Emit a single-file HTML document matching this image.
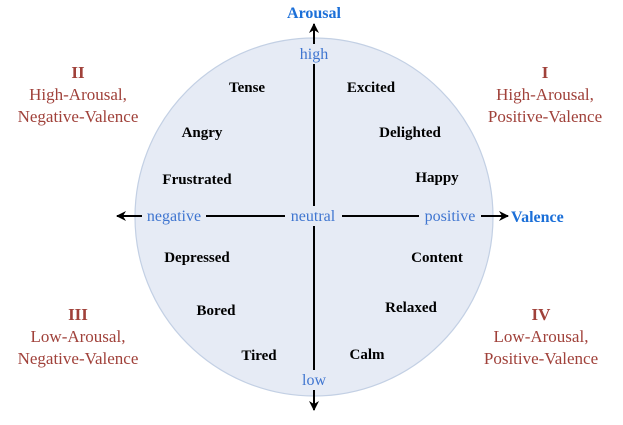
<!DOCTYPE html>
<html><head><style>body{margin:0;background:#fff}svg{display:block}text{font-family:"Liberation Serif","Times New Roman",serif}</style></head>
<body>
<svg width="623" height="425" viewBox="0 0 623 425" xmlns="http://www.w3.org/2000/svg">
<defs><marker id="a" markerWidth="10" markerHeight="10" refX="9" refY="5" orient="auto" markerUnits="userSpaceOnUse"><path d="M0,0 L10,5 L0,10 L3,5 z" fill="#000"/></marker></defs>
<circle cx="314" cy="217" r="179" fill="#e6ebf5" stroke="#c3d0e4" stroke-width="1.2"/>
<line x1="314" y1="396" x2="314" y2="24" stroke="#000" stroke-width="2" marker-end="url(#a)"/>
<line x1="314" y1="37" x2="314" y2="410" stroke="#000" stroke-width="2" marker-end="url(#a)"/>
<line x1="314" y1="216" x2="117" y2="216" stroke="#000" stroke-width="2" marker-end="url(#a)"/>
<line x1="314" y1="216" x2="508" y2="216" stroke="#000" stroke-width="2" marker-end="url(#a)"/>
<g fill="#e6ebf5">
<rect x="296" y="44" width="36" height="20"/><rect x="142" y="206" width="64" height="20"/><rect x="285" y="206" width="57" height="20"/><rect x="419" y="206" width="62" height="20"/><rect x="297" y="370" width="33" height="20"/>
</g>
<g fill="#3f75d0" font-size="16" text-anchor="middle">
<text x="314" y="59">high</text><text x="174" y="221">negative</text><text x="313" y="221">neutral</text><text x="450" y="221">positive</text><text x="314" y="385">low</text>
</g>
<g fill="#1b6fd8" font-size="16" font-weight="bold">
<text x="314" y="18" text-anchor="middle">Arousal</text><text x="511" y="222">Valence</text>
</g>
<g font-size="15" font-weight="bold" text-anchor="middle" fill="#000">
<text x="247" y="92">Tense</text><text x="202" y="137">Angry</text><text x="197" y="184">Frustrated</text>
<text x="197" y="262">Depressed</text><text x="216" y="315">Bored</text><text x="259" y="360">Tired</text>
<text x="371" y="92">Excited</text><text x="410" y="137">Delighted</text><text x="437" y="182">Happy</text>
<text x="437" y="262">Content</text><text x="411" y="312">Relaxed</text><text x="367" y="359">Calm</text>
</g>
<g fill="#a0413a" font-size="17" text-anchor="middle">
<text x="78" y="78" font-weight="bold">II</text><text x="78" y="100">High-Arousal,</text><text x="78" y="122">Negative-Valence</text>
<text x="545" y="78" font-weight="bold">I</text><text x="545" y="100">High-Arousal,</text><text x="545" y="122">Positive-Valence</text>
<text x="78" y="320" font-weight="bold">III</text><text x="78" y="342">Low-Arousal,</text><text x="78" y="364">Negative-Valence</text>
<text x="541" y="320" font-weight="bold">IV</text><text x="541" y="342">Low-Arousal,</text><text x="541" y="364">Positive-Valence</text>
</g>
</svg>
</body></html>
